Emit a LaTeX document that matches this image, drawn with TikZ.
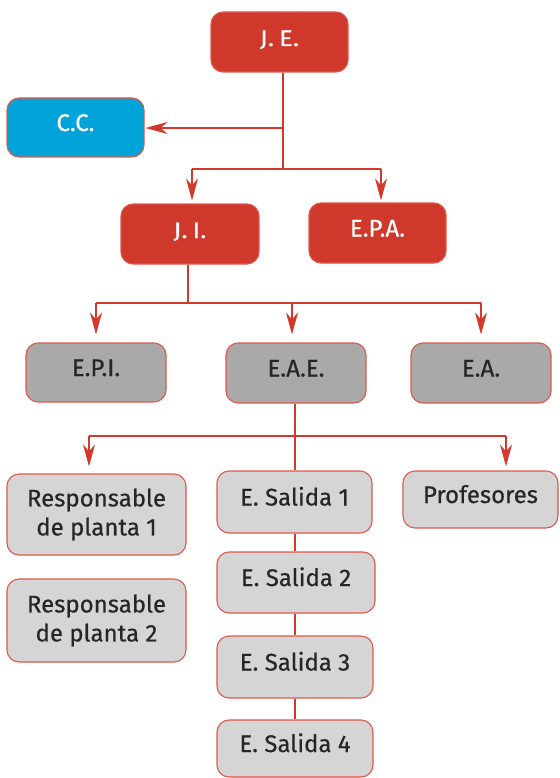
\documentclass[tikz,border=0pt]{standalone}
\usepackage{fontspec}
\setmainfont{Fira Sans}[FakeBold=0.5]
\newfontfamily\jfont{Fira Sans}[FakeStretch=1.15, FakeBold=0.5]
\usetikzlibrary{arrows.meta}
\definecolor{redfill}{HTML}{CF392C}
\definecolor{redline}{HTML}{D2392C}
\definecolor{redborder}{HTML}{E0574B}
\definecolor{bluefill}{HTML}{00A4D8}
\definecolor{greyfill}{HTML}{A9A9A9}
\definecolor{lightfill}{HTML}{D5D5D5}
\definecolor{darktext}{HTML}{262626}
\tikzset{
  box/.style={draw=redborder, line width=1.1pt, rounded corners=12pt, inner sep=0pt,
    font=\fontsize{24}{29}\selectfont, text height=17pt, text depth=10pt},
  smallfont/.style={font=\jfont\fontsize{22.5}{26}\selectfont, text height=15pt, text depth=7pt},
  redbox/.style={box, fill=redfill, text=white},
  bluebox/.style={box, fill=bluefill, text=white},
  greybox/.style={box, fill=greyfill, text=darktext},
  lightbox/.style={box, fill=lightfill, text=darktext},
  twoline/.style={align=center, text height=, text depth=},
  conn/.style={draw=redline, line width=1.2pt},
  arr/.style={conn, -{Stealth[length=22pt,width=12pt,inset=7pt]}}
}
\begin{document}
\begin{tikzpicture}[x=1pt,y=-1pt]
\useasboundingbox (0,0) rectangle (559,778);
% nodes
\node[redbox, smallfont, minimum width=137pt, minimum height=60pt] (je) at (279.5,42) {J.\hspace{5pt}E.};
\node[bluebox, minimum width=137pt, minimum height=59pt] (cc) at (75.5,127.5) {C.C.};
\node[redbox, smallfont, minimum width=138pt, minimum height=60pt] (ji) at (190,234) {J.\hspace{5pt}I.};
\node[redbox, minimum width=137pt, minimum height=60pt] (epa) at (377.5,233) {E.P.A.};
\node[greybox, minimum width=140pt, minimum height=59pt] (epi) at (96,372.5) {E.P.I.};
\node[greybox, minimum width=140pt, minimum height=60pt] (eae) at (296,373) {E.A.E.};
\node[greybox, minimum width=140pt, minimum height=60pt] (ea) at (481,373) {E.A.};
\node[lightbox, twoline, minimum width=179pt, minimum height=81pt] (resp1) at (96.5,514.5) {Responsable\\de planta 1};
\node[lightbox, twoline, minimum width=179pt, minimum height=83pt] (resp2) at (96.5,620.5) {Responsable\\de planta 2};
\node[lightbox, minimum width=155pt, minimum height=62pt] (s1) at (294.5,502) {E. Salida 1};
\node[lightbox, minimum width=158pt, minimum height=61pt] (s2) at (296,582.5) {E. Salida 2};
\node[lightbox, minimum width=156pt, minimum height=62pt] (s3) at (295,667) {E. Salida 3};
\node[lightbox, minimum width=156pt, minimum height=57pt] (s4) at (295,748.5) {E. Salida 4};
\node[lightbox, minimum width=155pt, minimum height=57pt] (prof) at (480.5,499.5) {Profesores};
% junction coordinates
\coordinate (j1) at (283,128);
\coordinate (j2) at (283,169);
\coordinate (l1) at (192,169);
\coordinate (r1) at (381,169);
\coordinate (k0) at (188,303);
\coordinate (k1) at (96,303);
\coordinate (k2) at (292,303);
\coordinate (k3) at (481,303);
\coordinate (m0) at (295,436);
\coordinate (m1) at (89,436);
\coordinate (m2) at (506,436);
% connectors
\draw[conn] (je.south -| j1) -- (j2);
\draw[arr, shorten >=1pt] (j1) -- (cc.east |- j1);
\draw[conn] (l1) -- (r1);
\draw[arr, shorten >=3pt] (l1) -- (l1 |- ji.north);
\draw[arr, shorten >=2pt] (r1) -- (r1 |- epa.north);
\draw[conn] (ji.south -| k0) -- (k0);
\draw[conn] (k1) -- (k3);
\draw[arr, shorten >=8pt] (k1) -- (k1 |- epi.north);
\draw[arr, shorten >=8pt] (k2) -- (k2 |- eae.north);
\draw[arr, shorten >=8pt] (k3) -- (k3 |- ea.north);
\draw[conn] (eae.south -| m0) -- (s1.north -| m0);
\draw[conn] (m1) -- (m2);
\draw[arr, shorten >=7pt] (m1) -- (m1 |- resp1.north);
\draw[arr, shorten >=4pt] (m2) -- (m2 |- prof.north);
\draw[conn] (s1.south -| m0) -- (s2.north -| m0);
\draw[conn] (s2.south -| m0) -- (s3.north -| m0);
\draw[conn] (s3.south -| m0) -- (s4.north -| m0);
\end{tikzpicture}
\end{document}
